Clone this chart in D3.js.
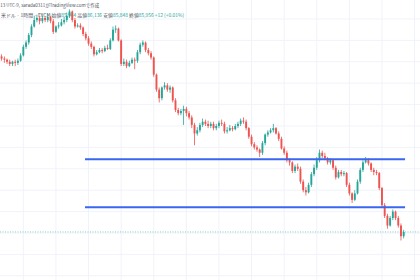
<!DOCTYPE html>
<html>
<head>
<meta charset="utf-8">
<script src="https://cdn.jsdelivr.net/npm/d3@7"></script>
<style>
  html, body { margin: 0; padding: 0; background: #fff; }
  svg { display: block; font-family: "Noto Sans CJK JP", "Noto Sans", sans-serif; }
</style>
</head>
<body>
<svg id="canvas" width="420" height="280"></svg>
<script>
// dimensions
const width = 420;
const height = 280;

const svg = d3.select('#canvas');

// hourly candles, [open, high, low, close]
const candles = [
  [87.65, 87.67, 87.61, 87.63], [87.63, 87.65, 87.59, 87.62], [87.62, 87.63, 87.58, 87.60], [87.60, 87.62, 87.56, 87.58],
  [87.58, 87.61, 87.56, 87.60], [87.60, 87.62, 87.56, 87.59], [87.59, 87.63, 87.57, 87.61], [87.61, 87.68, 87.60, 87.66],
  [87.66, 87.76, 87.65, 87.74], [87.74, 87.80, 87.72, 87.78], [87.78, 87.87, 87.76, 87.85], [87.85, 87.95, 87.83, 87.93],
  [87.93, 88.03, 87.92, 87.99], [87.99, 88.04, 87.97, 88.01], [88.01, 88.03, 87.95, 87.98], [87.98, 88.03, 87.96, 88.01],
  [88.01, 88.02, 87.97, 87.99], [87.99, 88.05, 87.97, 88.02], [88.02, 88.03, 87.96, 87.98], [87.98, 88.00, 87.86, 87.88],
  [87.88, 87.94, 87.87, 87.93], [87.93, 87.97, 87.91, 87.94], [87.94, 88.00, 87.93, 87.97], [87.97, 88.02, 87.95, 87.99],
  [87.99, 88.06, 87.97, 88.03], [88.03, 88.09, 88.01, 88.07], [88.07, 88.08, 87.97, 87.99], [87.99, 88.01, 87.91, 87.93],
  [87.93, 87.96, 87.92, 87.94], [87.94, 87.96, 87.90, 87.92], [87.92, 87.93, 87.84, 87.86], [87.86, 87.88, 87.80, 87.82],
  [87.82, 87.84, 87.75, 87.77], [87.77, 87.79, 87.72, 87.74], [87.74, 87.75, 87.65, 87.67], [87.67, 87.71, 87.66, 87.69],
  [87.69, 87.73, 87.68, 87.71], [87.71, 87.73, 87.68, 87.70], [87.70, 87.75, 87.69, 87.73], [87.73, 87.76, 87.71, 87.72],
  [87.72, 87.82, 87.71, 87.80], [87.80, 87.93, 87.79, 87.90], [87.90, 87.94, 87.87, 87.91], [87.91, 87.92, 87.79, 87.80],
  [87.80, 87.81, 87.56, 87.58], [87.58, 87.63, 87.56, 87.60], [87.60, 87.62, 87.54, 87.56], [87.56, 87.61, 87.55, 87.59],
  [87.59, 87.64, 87.58, 87.62], [87.62, 87.64, 87.53, 87.61], [87.61, 87.71, 87.59, 87.69], [87.69, 87.78, 87.67, 87.76],
  [87.76, 87.80, 87.74, 87.78], [87.78, 87.79, 87.69, 87.71], [87.71, 87.73, 87.66, 87.68], [87.68, 87.70, 87.62, 87.64],
  [87.64, 87.65, 87.46, 87.48], [87.48, 87.49, 87.32, 87.34], [87.34, 87.36, 87.22, 87.26], [87.26, 87.37, 87.24, 87.36],
  [87.36, 87.41, 87.34, 87.38], [87.38, 87.40, 87.32, 87.34], [87.34, 87.38, 87.31, 87.36], [87.36, 87.37, 87.22, 87.24],
  [87.24, 87.26, 87.13, 87.15], [87.15, 87.17, 87.10, 87.12], [87.12, 87.16, 87.10, 87.14], [87.14, 87.19, 87.01, 87.16],
  [87.16, 87.18, 87.09, 87.12], [87.12, 87.14, 87.06, 87.08], [87.08, 87.10, 86.98, 87.01], [87.01, 87.03, 86.82, 86.93],
  [86.93, 86.99, 86.91, 86.96], [86.96, 87.03, 86.94, 87.01], [87.01, 87.07, 86.99, 87.04], [87.04, 87.06, 87.00, 87.02],
  [87.02, 87.05, 86.98, 87.00], [87.00, 87.04, 86.98, 87.02], [87.02, 87.04, 86.96, 86.98], [86.98, 87.02, 86.96, 87.00],
  [87.00, 87.05, 86.98, 87.03], [87.03, 87.06, 87.00, 87.02], [87.02, 87.04, 86.93, 86.95], [86.95, 86.99, 86.93, 86.96],
  [86.96, 87.01, 86.95, 86.98], [86.98, 87.00, 86.95, 86.97], [86.97, 87.02, 86.96, 87.00], [87.00, 87.04, 86.98, 87.02],
  [87.02, 87.07, 87.00, 87.05], [87.05, 87.08, 87.02, 87.04], [87.04, 87.06, 86.96, 86.98], [86.98, 86.99, 86.88, 86.90],
  [86.90, 86.92, 86.81, 86.83], [86.83, 86.85, 86.78, 86.80], [86.80, 86.82, 86.76, 86.78], [86.78, 86.79, 86.71, 86.75],
  [86.75, 86.86, 86.73, 86.84], [86.84, 86.93, 86.82, 86.92], [86.92, 86.96, 86.90, 86.94], [86.94, 86.98, 86.93, 86.96],
  [86.96, 87.02, 86.94, 86.98], [86.98, 86.99, 86.92, 86.93], [86.93, 86.95, 86.86, 86.88], [86.88, 86.90, 86.78, 86.79],
  [86.79, 86.81, 86.73, 86.75], [86.75, 86.77, 86.66, 86.68], [86.68, 86.70, 86.63, 86.66], [86.66, 86.67, 86.56, 86.58],
  [86.58, 86.64, 86.56, 86.62], [86.62, 86.65, 86.58, 86.60], [86.60, 86.62, 86.46, 86.48], [86.48, 86.50, 86.38, 86.40],
  [86.40, 86.43, 86.35, 86.38], [86.38, 86.47, 86.37, 86.45], [86.45, 86.57, 86.43, 86.55], [86.55, 86.64, 86.53, 86.61],
  [86.61, 86.71, 86.59, 86.68], [86.68, 86.78, 86.66, 86.75], [86.75, 86.77, 86.70, 86.72], [86.72, 86.75, 86.68, 86.70],
  [86.70, 86.71, 86.64, 86.66], [86.66, 86.70, 86.64, 86.68], [86.68, 86.69, 86.59, 86.61], [86.61, 86.63, 86.50, 86.52],
  [86.52, 86.59, 86.51, 86.57], [86.57, 86.59, 86.53, 86.55], [86.55, 86.58, 86.53, 86.56], [86.56, 86.57, 86.43, 86.45],
  [86.45, 86.47, 86.35, 86.37], [86.37, 86.38, 86.28, 86.31], [86.31, 86.40, 86.30, 86.37], [86.37, 86.50, 86.36, 86.48],
  [86.48, 86.61, 86.46, 86.59], [86.59, 86.68, 86.57, 86.66], [86.66, 86.71, 86.65, 86.68], [86.68, 86.70, 86.63, 86.65],
  [86.65, 86.66, 86.57, 86.59], [86.59, 86.61, 86.54, 86.57], [86.57, 86.59, 86.54, 86.56], [86.56, 86.57, 86.40, 86.42],
  [86.42, 86.43, 86.24, 86.26], [86.26, 86.28, 86.14, 86.16], [86.16, 86.18, 86.04, 86.07], [86.07, 86.16, 86.06, 86.14],
  [86.14, 86.22, 86.12, 86.20], [86.20, 86.21, 86.12, 86.14], [86.14, 86.16, 86.05, 86.07], [86.07, 86.09, 85.93, 85.97],
  [85.97, 86.03, 85.95, 86.01]
];

// horizontal lines drawn on the chart (price) and the bars they span
const levels = [86.69, 86.24];
const levelSpan = [30.7, 148.5];

// grid: every 12 bars, every 0.2 in price
const gridBars = [8, 20, 32, 44, 56, 68, 80, 92, 104, 116, 128, 140, 152];
const gridPrices = [85.6, 85.8, 86.0, 86.2, 86.4, 86.6, 86.8, 87.0, 87.2, 87.4, 87.6, 87.8, 88.0];

// header texts
const titleText = ':13 UTC-9, sarada0311がTradingView.comで作成';
const legendParts = [
  { t: '米ドル · 1時間 · FXCM ', k: 'label' },
  { t: '始値', k: 'label' }, { t: '85,944 ', k: 'value' },
  { t: '高値', k: 'label' }, { t: '86,136 ', k: 'value' },
  { t: '安値', k: 'label' }, { t: '85,848 ', k: 'value' },
  { t: '終値', k: 'label' }, { t: '85,956 ', k: 'value' },
  { t: '+12 (+0.01%)', k: 'value' }
];

const upColor = '#26a69a';
const downColor = '#ef5350';

// scales
const xScale = d3.scaleLinear().domain([0, 148]).range([1.6, 403.7]);
const yScale = d3.scaleLinear().domain([85.8, 88.0]).range([254.4, 19.0]);
const bodyW = 1.9;

// grid
const grid = svg.append('g').attr('class', 'grid');
grid.selectAll('.vg')
  .data(gridBars)
  .join('line')
    .attr('class', 'vg')
    .attr('x1', d => xScale(d)).attr('x2', d => xScale(d))
    .attr('y1', 0).attr('y2', height)
    .attr('stroke', '#f0f3fa');
grid.selectAll('.hg')
  .data(gridPrices)
  .join('line')
    .attr('class', 'hg')
    .attr('x1', 0).attr('x2', width)
    .attr('y1', d => yScale(d)).attr('y2', d => yScale(d))
    .attr('stroke', '#f0f3fa');

// header
svg.append('text')
  .attr('x', -1).attr('y', 7)
  .attr('font-size', 4.5)
  .attr('fill', '#50535e')
  .text(titleText);

const legend = svg.append('text')
  .attr('x', 1).attr('y', 17)
  .attr('font-size', 4.9)
  .attr('xml:space', 'preserve');
legend.selectAll('tspan')
  .data(legendParts)
  .join('tspan')
    .attr('fill', d => d.k === 'value' ? upColor : '#50535e')
    .text(d => d.t);

// last price line (dotted)
const last = candles[candles.length - 1][3];
svg.append('line')
  .attr('x1', 0).attr('x2', width)
  .attr('y1', yScale(last)).attr('y2', yScale(last))
  .attr('stroke', upColor)
  .attr('stroke-opacity', 0.55)
  .attr('stroke-dasharray', '1,1.5');

// candles
const layer = svg.append('g').attr('class', 'candles');
const bars = layer.selectAll('g')
  .data(candles)
  .join('g')
    .attr('fill', d => d[3] >= d[0] ? upColor : downColor);

bars.append('rect')
  .attr('x', (d, i) => xScale(i) - 0.4)
  .attr('width', 0.8)
  .attr('y', d => yScale(d[1]))
  .attr('height', d => yScale(d[2]) - yScale(d[1]));

bars.append('rect')
  .attr('x', (d, i) => xScale(i) - bodyW / 2)
  .attr('width', bodyW)
  .attr('y', d => yScale(Math.max(d[0], d[3])))
  .attr('height', d => Math.max(1, Math.abs(yScale(d[0]) - yScale(d[3]))));

// support / resistance lines
svg.selectAll('.level')
  .data(levels)
  .join('line')
    .attr('class', 'level')
    .attr('x1', xScale(levelSpan[0])).attr('x2', xScale(levelSpan[1]))
    .attr('y1', d => yScale(d)).attr('y2', d => yScale(d))
    .attr('stroke', '#3a66f0')
    .attr('stroke-width', 2);
</script>
</body>
</html>
